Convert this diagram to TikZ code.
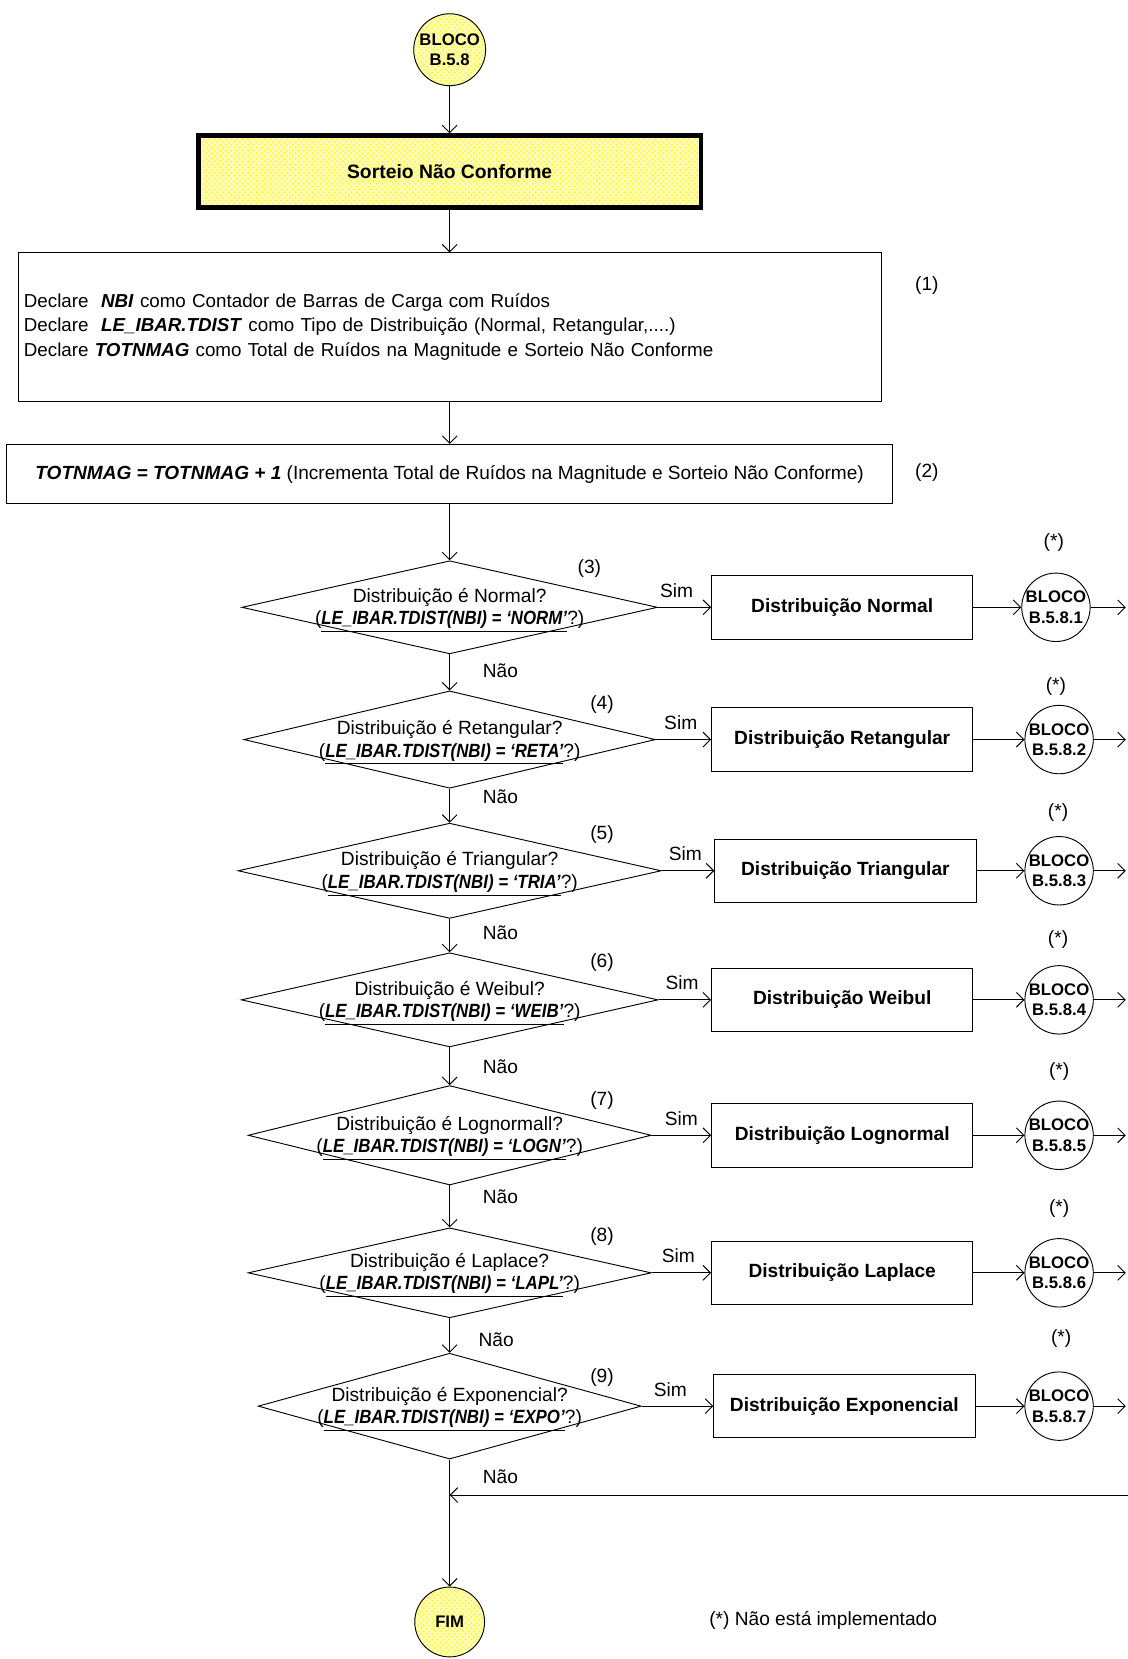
\documentclass[tikz,border=0pt]{standalone}
\usepackage{fontspec}
\setmainfont{Liberation Sans}
\usepackage{graphicx}
\usetikzlibrary{
    arrows.meta,
    shapes.geometric,
    patterns
}
\newcommand{\cond}[1]{(\scalebox{0.88}[1]{\underline{\textbf{\textit{LE\_IBAR.TDIST(NBI) = ‘#1’}}}}?)}
\tikzset{
  amarelo/.style={
    preaction={fill=yellow!30},
    pattern=crosshatch dots,
    pattern color=yellow
  },
  bloco/.style={
    draw, circle, inner sep=0pt, minimum size=1.28cm,
    font=\fontsize{9}{11}\selectfont\bfseries, align=center
  },
  caixa/.style={
    draw, rectangle, minimum width=4.94cm, minimum height=1.2cm,
    font=\fontsize{10.3}{12}\selectfont\bfseries
  },
  decisao/.style={
    draw, diamond, inner sep=0pt
  },
  texto/.style={
    font=\fontsize{10.3}{12}\selectfont, align=center, inner sep=1pt
  },
  seta/.style={
    -{Straight Barb[length=4pt,width=8pt]}
  }
}

\begin{document}
\begin{tikzpicture}[x=0.02cm, y=-0.02cm, line width=0.5pt]
    \useasboundingbox (0,0) rectangle (1066,1568);

    % início
    \node[bloco, amarelo, minimum size=1.36cm] (ini) at (425,47) {BLOCO\\B.5.8};
    \node[draw, amarelo, line width=2.3pt, minimum width=9.5cm, minimum height=1.36cm,
          font=\fontsize{10.4}{12}\selectfont\bfseries] (sort) at (425,162) {Sorteio Não Conforme};
    \node[draw, minimum width=16.32cm, minimum height=2.8cm, text width=16.1cm, inner sep=0.1cm,
          align=left, font=\fontsize{10.1}{13.1}\selectfont] (decl) at (425,309)
      {Declare\ \ \textbf{\textit{NBI}} como Contador de Barras de Carga com Ruídos\\
       Declare\ \ \textbf{\textit{LE\_IBAR.TDIST}} como Tipo de Distribuição (Normal, Retangular,....)\\
       Declare \textbf{\textit{TOTNMAG}} como Total de Ruídos na Magnitude e Sorteio Não Conforme};
    \node[texto] (n1) at (876,270) {(1)};
    \node[draw, texto, minimum width=16.76cm, minimum height=1.12cm,
          font=\fontsize{10.25}{12}\selectfont] (incr) at (425,448)
      {\textbf{\textit{TOTNMAG = TOTNMAG + 1}} (Incrementa Total de Ruídos na Magnitude e Sorteio Não Conforme)};
    \node[texto] (n2) at (876,447) {(2)};

    % decisões
    \node[decisao, minimum width=7.86cm, minimum height=1.76cm] (d1) at (425,574) {};
    \node[texto] (t1) at (425,577) {Distribuição é Normal?\\\cond{NORM}};
    \node[decisao, minimum width=7.78cm, minimum height=1.84cm] (d2) at (425,699) {};
    \node[texto] (t2) at (425,702) {Distribuição é Retangular?\\\cond{RETA}};
    \node[decisao, minimum width=8.0cm, minimum height=1.8cm] (d3) at (425,823) {};
    \node[texto] (t3) at (425,826) {Distribuição é Triangular?\\\cond{TRIA}};
    \node[decisao, minimum width=7.88cm, minimum height=1.78cm] (d4) at (425,945) {};
    \node[texto] (t4) at (425,948) {Distribuição é Weibul?\\\cond{WEIB}};
    \node[decisao, minimum width=7.62cm, minimum height=1.88cm] (d5) at (425,1073) {};
    \node[texto] (t5) at (425,1076) {Distribuição é Lognormall?\\\cond{LOGN}};
    \node[decisao, minimum width=7.62cm, minimum height=1.7cm] (d6) at (425,1203) {};
    \node[texto] (t6) at (425,1205) {Distribuição é Laplace?\\\cond{LAPL}};
    \node[decisao, minimum width=7.24cm, minimum height=2.0cm] (d7) at (425,1329) {};
    \node[texto] (t7) at (425,1332) {Distribuição é Exponencial?\\\cond{EXPO}};

    % números
    \node[texto] (n3) at (557,537) {(3)};
    \node[texto] (n4) at (569,666) {(4)};
    \node[texto] (n5) at (569,789) {(5)};
    \node[texto] (n6) at (569,910) {(6)};
    \node[texto] (n7) at (569,1040) {(7)};
    \node[texto] (n8) at (569,1169) {(8)};
    \node[texto] (n9) at (569,1302) {(9)};

    % distribuições
    \node[caixa] (b1) at (796,574) {Distribuição Normal};
    \node[caixa] (b2) at (796,699) {Distribuição Retangular};
    \node[caixa] (b3) at (799,823) {Distribuição Triangular};
    \node[caixa] (b4) at (796,945) {Distribuição Weibul};
    \node[caixa] (b5) at (796,1073) {Distribuição Lognormal};
    \node[caixa] (b6) at (796,1203) {Distribuição Laplace};
    \node[caixa] (b7) at (798,1329) {Distribuição Exponencial};

    % blocos
    \node[bloco] (c1) at (998,574) {BLOCO\\B.5.8.1};
    \node[bloco] (c2) at (1001,699) {BLOCO\\B.5.8.2};
    \node[bloco] (c3) at (1001,823) {BLOCO\\B.5.8.3};
    \node[bloco] (c4) at (1001,945) {BLOCO\\B.5.8.4};
    \node[bloco] (c5) at (1001,1073) {BLOCO\\B.5.8.5};
    \node[bloco] (c6) at (1001,1203) {BLOCO\\B.5.8.6};
    \node[bloco] (c7) at (1001,1329) {BLOCO\\B.5.8.7};
    \node[texto] (a1) at (996,513) {(*)};
    \node[texto] (a2) at (998,649) {(*)};
    \node[texto] (a3) at (1000,768) {(*)};
    \node[texto] (a4) at (1000,888) {(*)};
    \node[texto] (a5) at (1001,1013) {(*)};
    \node[texto] (a6) at (1001,1142) {(*)};
    \node[texto] (a7) at (1003,1265) {(*)};
    \coordinate (s1) at (1064,574);
    \coordinate (s2) at (1064,699);
    \coordinate (s3) at (1064,823);
    \coordinate (s4) at (1064,945);
    \coordinate (s5) at (1064,1073);
    \coordinate (s6) at (1064,1203);
    \coordinate (s7) at (1064,1329);
    \coordinate (ret) at (1072,1413);

    % fim
    \node[bloco, amarelo, minimum size=1.32cm] (fim) at (425,1533) {FIM};
    \node[texto] (nota) at (778,1532) {(*) Não está implementado};

    % ligações
    \draw[seta] (ini) -- (sort);
    \draw[seta] (sort) -- (decl);
    \draw[seta] (decl) -- (incr);
    \draw[seta] (incr) -- (d1);
    \draw[seta] (d1) -- (d2);
    \draw[seta] (d2) -- (d3);
    \draw[seta] (d3) -- (d4);
    \draw[seta] (d4) -- (d5);
    \draw[seta] (d5) -- (d6);
    \draw[seta] (d6) -- (d7);
    \draw[seta] (d7) -- (fim);
    \draw[seta] (ret) -- (ret -| d7.south);

    \draw[seta] (d1) -- (b1) node[texto, pos=0.35, above=4pt] (sim1) {Sim};
    \draw[seta] (d2) -- (b2) node[texto, pos=0.45, above=4pt] (sim2) {Sim};
    \draw[seta] (d3) -- (b3) node[texto, pos=0.45, above=4pt] (sim3) {Sim};
    \draw[seta] (d4) -- (b4) node[texto, pos=0.45, above=4pt] (sim4) {Sim};
    \draw[seta] (d5) -- (b5) node[texto, pos=0.5, above=4pt] (sim5) {Sim};
    \draw[seta] (d6) -- (b6) node[texto, pos=0.45, above=4pt] (sim6) {Sim};
    \draw[seta] (d7) -- (b7) node[texto, pos=0.4, above=4pt] (sim7) {Sim};

    \node[texto] (nao1) at (473,634) {Não};
    \node[texto] (nao2) at (473,753) {Não};
    \node[texto] (nao3) at (473,882) {Não};
    \node[texto] (nao4) at (473,1008) {Não};
    \node[texto] (nao5) at (473,1131) {Não};
    \node[texto] (nao6) at (469,1266) {Não};
    \node[texto] (nao7) at (473,1396) {Não};

    \draw[seta] (b1) -- (c1);
    \draw[seta] (b2) -- (c2);
    \draw[seta] (b3) -- (c3);
    \draw[seta] (b4) -- (c4);
    \draw[seta] (b5) -- (c5);
    \draw[seta] (b6) -- (c6);
    \draw[seta] (b7) -- (c7);
    \draw[seta] (c1) -- (s1);
    \draw[seta] (c2) -- (s2);
    \draw[seta] (c3) -- (s3);
    \draw[seta] (c4) -- (s4);
    \draw[seta] (c5) -- (s5);
    \draw[seta] (c6) -- (s6);
    \draw[seta] (c7) -- (s7);
\end{tikzpicture}
\end{document}
